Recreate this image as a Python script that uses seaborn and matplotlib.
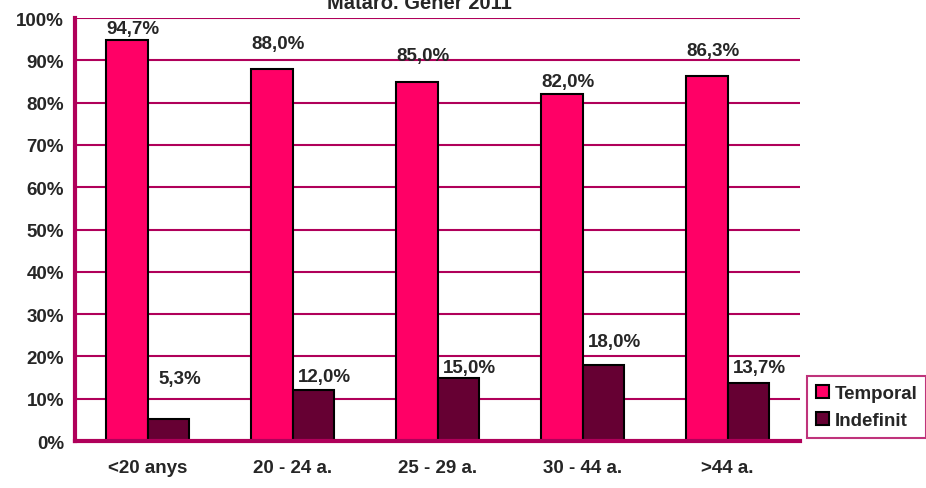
import pandas as pd
import matplotlib.pyplot as plt
import seaborn as sns

categories = ['<20 anys', '20 - 24 a.', '25 - 29 a.', '30 - 44 a.', '>44 a.']
temporal = [94.7, 88.0, 85.0, 82.0, 86.3]
indefinit = [5.3, 12.0, 15.0, 18.0, 13.7]
series = ['Temporal', 'Indefinit']

# where Excel put the data labels (in % units)
temporal_label_y = [95.6, 92.0, 89.2, 83.0, 90.3]
indefinit_label_y = [12.8, 13.3, 15.4, 21.5, 15.4]

pink = '#FF0066'
dark = '#660033'
axis_col = '#B0005A'
fs = 13.5

df = pd.DataFrame({
    'cat': categories * 2,
    'val': temporal + indefinit,
    'serie': [series[0]] * 5 + [series[1]] * 5,
})

sns.set_style('white')
plt.rcParams['font.family'] = ['Liberation Sans', 'DejaVu Sans']
plt.rcParams['font.weight'] = 'bold'

fig = plt.figure(figsize=(9.26, 4.89), dpi=100)
ax = fig.add_axes([0.081, 0.096, 0.783, 0.865])

sns.barplot(data=df, x='cat', y='val', hue='serie', palette=[pink, dark],
            saturation=1, width=0.57, edgecolor='black', linewidth=1.5, ax=ax)

ax.set_ylim(0, 100)
ax.set_xlim(-0.5, 4.5)
ax.set_yticks(range(0, 101, 10))
ax.set_yticklabels([f'{v}%' for v in range(0, 101, 10)], fontsize=fs, fontweight='bold')
ax.set_xticks(range(5))
ax.set_xticklabels(categories, fontsize=fs, fontweight='bold')
ax.set_xticks([i - 0.5 for i in range(6)], minor=True)
ax.tick_params(axis='x', which='major', length=0, pad=13)
ax.tick_params(axis='x', which='minor', length=6, width=3, color=axis_col, direction='out')
ax.tick_params(axis='y', length=6, width=3, color=axis_col, direction='out', pad=2)
ax.set_xlabel('')
ax.set_ylabel('')

ax.yaxis.grid(True, color=axis_col, linewidth=1.5)
ax.set_axisbelow(True)
for side in ['top', 'right']:
    ax.spines[side].set_visible(False)
for side in ['left', 'bottom']:
    ax.spines[side].set_color(axis_col)
    ax.spines[side].set_linewidth(3)

off = 0.57 / 4
for i in range(5):
    ax.text(i - off + 0.04, temporal_label_y[i], f'{temporal[i]:.1f}%'.replace('.', ','),
            ha='center', va='bottom', fontsize=fs, fontweight='bold')
    ax.text(i + off + 0.08, indefinit_label_y[i], f'{indefinit[i]:.1f}%'.replace('.', ','),
            ha='center', va='bottom', fontsize=fs, fontweight='bold')

fig.text(0.453, 0.992, 'Mataró. Gener 2011', ha='center', va='center',
         fontsize=14.5, fontweight='bold')

handles, labels = ax.get_legend_handles_labels()
leg = ax.legend(handles, labels, loc='lower left', bbox_to_anchor=(0.872, 0.103),
                bbox_transform=fig.transFigure, fontsize=fs, frameon=True,
                fancybox=False, handlelength=0.7, handleheight=0.7,
                handletextpad=0.3, borderpad=0.45, labelspacing=0.55,
                borderaxespad=0)
leg.get_frame().set_edgecolor(axis_col)
leg.get_frame().set_linewidth(1.5)
for t in leg.get_texts():
    t.set_fontweight('bold')

fig.savefig('out.png', dpi=100)
